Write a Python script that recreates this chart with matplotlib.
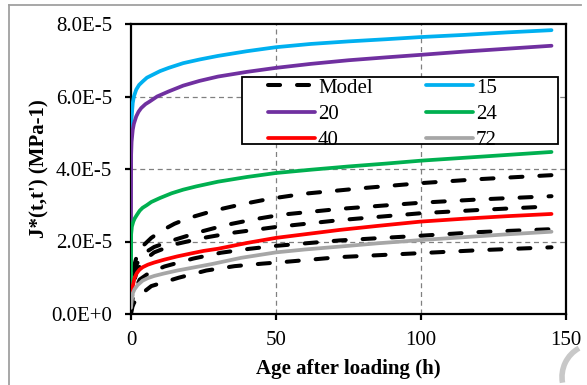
import numpy as np
import matplotlib
matplotlib.use("Agg")
import matplotlib.pyplot as plt
from matplotlib.ticker import FuncFormatter, FixedLocator
from matplotlib.patches import Arc, Rectangle
from matplotlib.lines import Line2D

# valeurs, en unités de 1E-5 MPa-1
t_15 = [0, 0.2, 0.6, 1.0, 1.8, 2.8, 4.1, 5.5, 7.5, 10, 13, 18, 23.6, 30, 40, 50, 62, 75, 88, 100, 115, 130, 145]
j_15 = [5.0, 5.4, 5.82, 6.0, 6.19, 6.32, 6.42, 6.52, 6.6, 6.7, 6.79, 6.92, 7.02, 7.12, 7.25, 7.36, 7.45, 7.52, 7.58, 7.64, 7.7, 7.77, 7.83]

t_20 = [0, 0.05, 0.2, 0.6, 1.0, 1.8, 2.6, 3.5, 5, 6.4, 9, 13, 18, 23.6, 30, 40, 50, 62, 75, 88, 100, 115, 130, 145]
j_20 = [2.4, 4.4, 4.75, 5.08, 5.25, 5.45, 5.58, 5.68, 5.79, 5.86, 6.0, 6.14, 6.3, 6.43, 6.55, 6.68, 6.79, 6.9, 7.0, 7.08, 7.15, 7.24, 7.32, 7.4]

t_24 = [0, 0.05, 0.3, 0.8, 1.3, 2, 3, 4, 5.4, 7, 10, 14, 18, 22.5, 30, 40, 50, 62, 75, 88, 100, 115, 130, 145]
j_24 = [0.66, 2.2, 2.41, 2.55, 2.64, 2.73, 2.85, 2.93, 3.0, 3.09, 3.2, 3.33, 3.43, 3.52, 3.65, 3.78, 3.89, 3.98, 4.07, 4.15, 4.23, 4.31, 4.39, 4.47]

t_40 = [0, 0.3, 0.7, 1.2, 2, 2.9, 4, 5.8, 8, 11.5, 16, 20.7, 25, 30, 40, 50, 60, 72, 85, 100, 115, 130, 145]
j_40 = [0.5, 0.62, 0.8, 0.99, 1.13, 1.22, 1.29, 1.36, 1.42, 1.5, 1.59, 1.67, 1.74, 1.8, 1.96, 2.1, 2.2, 2.32, 2.43, 2.55, 2.63, 2.7, 2.76]

t_72 = [0, 0.3, 0.6, 1.2, 2.3, 4, 5.8, 8, 11.5, 16, 20.7, 28, 38, 50, 60, 72, 85, 100, 115, 130, 145]
j_72 = [0.17, 0.4, 0.57, 0.68, 0.8, 0.92, 0.99, 1.05, 1.12, 1.2, 1.27, 1.38, 1.55, 1.7, 1.78, 1.86, 1.95, 2.04, 2.12, 2.2, 2.27]

# courbes du modèle (pointillés noirs)
t_mod_a = [0, 0.5, 1, 2, 4, 7, 10.6, 15, 20, 29, 39, 48, 60, 81, 100, 120, 145]
j_mod_a = [0.4, 0.95, 1.3, 1.6, 1.87, 2.1, 2.3, 2.49, 2.65, 2.86, 3.04, 3.18, 3.32, 3.48, 3.61, 3.72, 3.83]
t_mod_b = [0, 0.5, 1, 2, 4, 8, 14.7, 24, 33, 43, 52, 72, 100, 120, 145]
j_mod_b = [0.3, 0.75, 1.05, 1.38, 1.65, 1.85, 2.04, 2.27, 2.46, 2.62, 2.74, 2.9, 3.07, 3.16, 3.25]
t_mod_c = [0, 0.5, 1, 2, 4, 8, 15, 25, 35, 50, 72, 100, 120, 145]
j_mod_c = [0.2, 0.6, 0.88, 1.18, 1.45, 1.7, 1.92, 2.1, 2.24, 2.4, 2.59, 2.78, 2.87, 2.97]
t_mod_d = [0, 0.5, 1, 3, 6, 11.5, 21.5, 31, 41, 50, 72, 100, 120, 145]
j_mod_d = [0.1, 0.4, 0.6, 0.95, 1.12, 1.31, 1.53, 1.69, 1.8, 1.88, 2.03, 2.16, 2.26, 2.34]
t_mod_e = [0, 0.5, 1, 3, 7, 16.4, 26, 35.7, 45.4, 53.5, 72, 100, 120, 145]
j_mod_e = [0.0, 0.2, 0.3, 0.52, 0.77, 1.0, 1.2, 1.32, 1.39, 1.44, 1.57, 1.68, 1.76, 1.84]

x_ticks = [0, 50, 100, 150]
y_ticks = [0, 2e-5, 4e-5, 6e-5, 8e-5]

SERIF = "Liberation Serif"
FS = 15


def fmt_sci(v, pos):
    # format type Excel : 2.0E-5
    if v == 0:
        return "0.0E+0"
    exp = int(np.floor(np.log10(abs(v)) + 1e-9))
    return f"{v / 10 ** exp:.1f}E{exp}"


W, H = 587, 385
fig = plt.figure(figsize=(W / 100, H / 100), dpi=100)
ax = fig.add_axes([131 / W, 1 - 314 / H, 435 / W, 290 / H])

# grille pointillée
for xv in [50, 100]:
    ax.axvline(xv, color="#808080", lw=0.9, ls=(0, (4, 3)), zorder=1)
for yv in [2e-5, 4e-5, 6e-5]:
    ax.axhline(yv, color="#808080", lw=0.9, ls=(0, (4, 3)), zorder=1)

modeles = [(t_mod_a, j_mod_a), (t_mod_b, j_mod_b), (t_mod_c, j_mod_c),
           (t_mod_d, j_mod_d), (t_mod_e, j_mod_e)]
for i, (tt, jj) in enumerate(modeles):
    ax.plot(tt, np.array(jj) * 1e-5, color="black", lw=2.9,
            ls=(0, (3.0, 4.2)), dash_capstyle="round",
            label="Model" if i == 0 else None, zorder=2)

series = [
    ("15", t_15, j_15, "#00B0F0"),
    ("20", t_20, j_20, "#7030A0"),
    ("24", t_24, j_24, "#00B050"),
    ("40", t_40, j_40, "#FF0000"),
    ("72", t_72, j_72, "#A6A6A6"),
]
for lab, tt, jj, col in series:
    ax.plot(tt, np.array(jj) * 1e-5, color=col, lw=2.7,
            solid_capstyle="round", solid_joinstyle="round",
            label=lab, zorder=3)

ax.set_xlim(0, 150)
ax.set_ylim(0, 8e-5)
ax.xaxis.set_major_locator(FixedLocator(x_ticks))
ax.yaxis.set_major_locator(FixedLocator(y_ticks))
ax.yaxis.set_major_formatter(FuncFormatter(fmt_sci))

for sp in ax.spines.values():
    sp.set_linewidth(1.6)
    sp.set_color("black")
ax.tick_params(axis="both", direction="out", length=4.5, width=1.6,
               labelsize=FS, colors="black")
ax.tick_params(axis="y", pad=9)
ax.tick_params(axis="x", pad=8)
for lbl in ax.get_xticklabels() + ax.get_yticklabels():
    lbl.set_fontfamily(SERIF)

ax.set_xlabel("Age after loading (h)", fontsize=FS, fontweight="bold",
              family=SERIF)
ax.set_ylabel("J*(t,t') (MPa-1)", fontsize=FS, fontweight="bold",
              family=SERIF)
ax.xaxis.set_label_coords(0.5, (314 - 359) / 290)
ax.yaxis.set_label_coords((49 - 131) / 435, 0.5)

# légende sur deux colonnes (ordre par colonne), cadre dessiné à part
h, l = ax.get_legend_handles_labels()
ordre = ["Model", "20", "40", "15", "24", "72"]
hh = [h[l.index(o)] for o in ordre]
leg = ax.legend(hh, ordre, ncol=2, loc="upper left",
                bbox_to_anchor=(268 / W, 1 - 78 / H),
                bbox_transform=fig.transFigure, borderaxespad=0,
                prop={"family": SERIF, "size": FS}, frameon=False,
                handlelength=2.25, handletextpad=0.15, columnspacing=2.55,
                labelspacing=0.32, borderpad=0.0)
leg.set_zorder(5)
ax.add_patch(Rectangle((242 / W, 1 - 144 / H), (558 - 242) / W, (144 - 77) / H,
                       transform=fig.transFigure, facecolor="white",
                       edgecolor="black", lw=1.3, zorder=4.5))

# cadre extérieur gris et filigrane
fig.add_artist(Line2D([8.5 / W, 8.5 / W], [-0.1, 1 - 4.5 / H],
                      color="#A0A0A0", lw=1.3, transform=fig.transFigure))
fig.add_artist(Line2D([8.5 / W, 581 / W], [1 - 4.5 / H, 1 - 4.5 / H],
                      color="#A0A0A0", lw=1.3, transform=fig.transFigure))
fig.add_artist(Arc((595 / W, 8 / H), 66 / W, 66 / H, theta1=110, theta2=195,
                   color="#C8C8C8", lw=4, transform=fig.transFigure))

fig.savefig("out.png", dpi=100)
